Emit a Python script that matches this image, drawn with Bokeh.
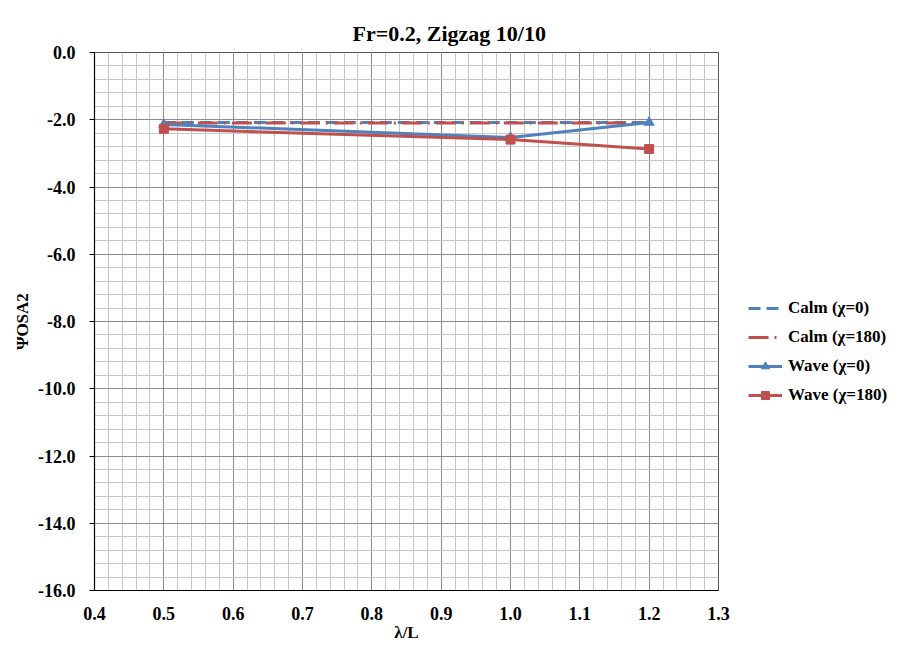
from bokeh.plotting import figure
from bokeh.models import Legend, LegendItem, FixedTicker, NumeralTickFormatter, Range1d
from bokeh.embed import file_html
from bokeh.resources import INLINE

# data
x_calm = [0.5, 1.0, 1.2]
calm_0 = [-2.08, -2.08, -2.08]
calm_180 = [-2.1, -2.1, -2.1]
x_wave = [0.5, 1.0, 1.2]
wave_0 = [-2.14, -2.53, -2.08]
wave_180 = [-2.27, -2.59, -2.87]

x_ticks = [0.4, 0.5, 0.6, 0.7, 0.8, 0.9, 1.0, 1.1, 1.2, 1.3]
y_ticks = [0.0, -2.0, -4.0, -6.0, -8.0, -10.0, -12.0, -14.0, -16.0]
x_minor = [round(0.4 + 0.02 * i, 2) for i in range(46)]
y_minor = [round(-0.4 * i, 1) for i in range(41)]

TITLE = "Fr=0.2, Zigzag 10/10"
XLABEL = "λ/L"
YLABEL = "ΨOSA2"
names = ["Calm (χ=0)", "Calm (χ=180)", "Wave (χ=0)", "Wave (χ=180)"]

BLUE = "#4f81bd"
RED = "#c0504d"
FONT = "Liberation Serif"

p = figure(frame_width=624, frame_height=538, output_backend="svg", toolbar_location=None,
           x_range=Range1d(0.4, 1.3), y_range=Range1d(-16, 0),
           min_border_left=94, min_border_right=10, min_border_top=52, min_border_bottom=49)

p.title.text = TITLE
p.title.text_font = FONT
p.title.text_font_size = "22px"
p.title.text_font_style = "bold"
p.title.align = "left"
p.title.offset = 258
p.title.vertical_align = "top"
p.title.standoff = 10
p.title.text_color = "#000000"

p.outline_line_color = "#555555"
p.outline_line_width = 1

# grids
p.xgrid.ticker = FixedTicker(ticks=x_ticks, minor_ticks=x_minor)
p.ygrid.ticker = FixedTicker(ticks=y_ticks, minor_ticks=y_minor)
for g in (p.xgrid, p.ygrid):
    g.grid_line_color = "#8c8c8c"
    g.grid_line_width = 1
    g.minor_grid_line_color = "#c8c8c8"
    g.minor_grid_line_width = 1

p.xaxis.ticker = FixedTicker(ticks=x_ticks)
p.yaxis.ticker = FixedTicker(ticks=y_ticks)
p.xaxis.formatter = NumeralTickFormatter(format="0.0")
p.yaxis.formatter = NumeralTickFormatter(format="0.0")

for ax in (p.xaxis[0], p.yaxis[0]):
    ax.axis_line_color = "#000000"
    ax.axis_line_width = 1.2
    ax.major_label_text_font = FONT
    ax.major_label_text_font_size = "18px"
    ax.major_label_text_font_style = "bold"
    ax.major_label_text_color = "#000000"
    ax.axis_label_text_font = FONT
    ax.axis_label_text_font_size = "17px"
    ax.axis_label_text_font_style = "bold"
    ax.axis_label_text_color = "#000000"
    ax.minor_tick_line_color = None

p.xaxis.major_tick_line_color = None
p.xaxis.major_label_standoff = 10
p.xaxis.axis_label = XLABEL
p.xaxis.axis_label_standoff = 0

p.yaxis.major_tick_line_color = "#000000"
p.yaxis.major_tick_out = 5
p.yaxis.major_tick_in = 0
p.yaxis.major_label_standoff = 14
p.yaxis.axis_label = YLABEL
p.yaxis.axis_label_standoff = 3

r_c0 = p.line(x_calm, calm_0, line_color=BLUE, line_width=3, line_dash="12 6")
r_c180 = p.line(x_calm, calm_180, line_color=RED, line_width=3, line_dash="20 6 2 6")
r_w0 = p.line(x_wave, wave_0, line_color=BLUE, line_width=3)
r_w0m = p.scatter(x_wave, wave_0, marker="triangle", size=10, fill_color=BLUE, line_color=BLUE)
r_w180 = p.line(x_wave, wave_180, line_color=RED, line_width=3)
r_w180m = p.scatter(x_wave, wave_180, marker="square", size=9, fill_color=RED, line_color=RED)

legend = Legend(items=[
    LegendItem(label=names[0], renderers=[r_c0]),
    LegendItem(label=names[1], renderers=[r_c180]),
    LegendItem(label=names[2], renderers=[r_w0, r_w0m]),
    LegendItem(label=names[3], renderers=[r_w180, r_w180m]),
])
legend.location = (30, 185)
legend.margin = 0
legend.padding = 0
legend.border_line_color = None
legend.background_fill_alpha = 0
legend.glyph_width = 34
legend.glyph_height = 20
legend.spacing = 9
legend.label_standoff = 6
legend.label_text_font = FONT
legend.label_text_font_size = "17px"
legend.label_text_font_style = "bold"
legend.label_text_color = "#000000"
p.add_layout(legend, "right")

open("out.html", "w").write(file_html(p, INLINE))
